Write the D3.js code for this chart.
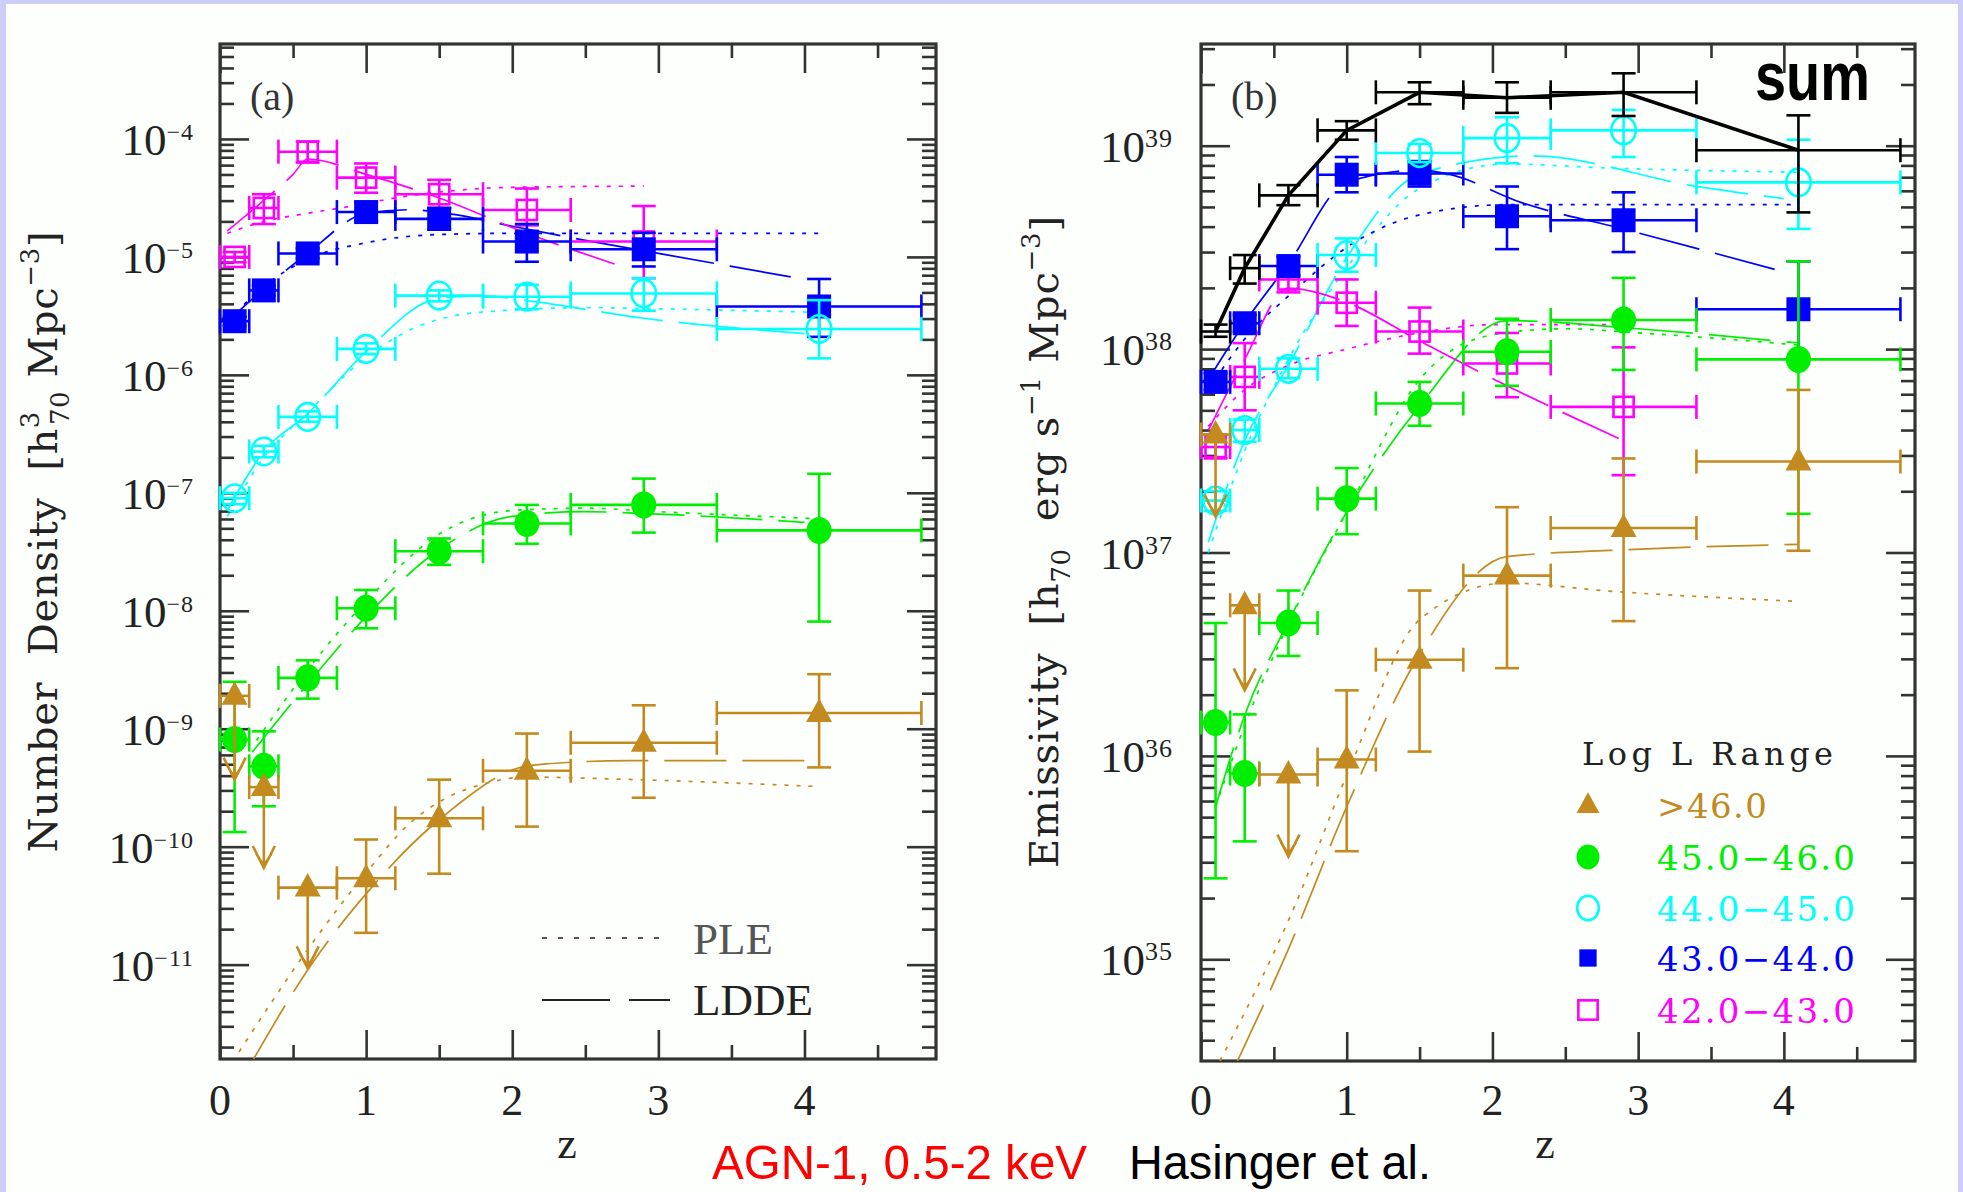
<!DOCTYPE html>
<html>
<head>
<meta charset="utf-8">
<script src="https://cdn.jsdelivr.net/npm/d3@7"></script>
<style>
  body { margin: 0; background: #fff; }
  svg { display: block; }
  text { white-space: pre; }
</style>
</head>
<body>
<div id="chart"></div>
<script>
// ---------- data ----------
// redshift bins (centre, low edge, high edge)
const zMid = [0.1, 0.3, 0.6, 1.0, 1.5, 2.1, 2.9, 4.1];
const zLo  = [0.0, 0.2, 0.4, 0.8, 1.2, 1.8, 2.4, 3.4];
const zHi  = [0.2, 0.4, 0.8, 1.2, 1.8, 2.4, 3.4, 4.8];

// luminosity classes
const classNames   = [">46.0", "45.0\u221246.0", "44.0\u221245.0", "43.0\u221244.0", "42.0\u221243.0"];
const classColors  = ["#c28a1f", "#00ee00", "#00ffff", "#0000ff", "#ff00ff"];
const classSymbols = ["triangle", "disc", "circle", "block", "square"];

// (a) number density; for the gold class the first three are upper limits (lo = arrow tip)
const goldLimit = [true, true, true, false, false, false, false, false];
const ndGold      = [1.9e-9, 3.2e-10, 4.5e-11, 5.4e-11, 1.74e-10, 4.4e-10, 7.6e-10, 1.36e-9];
const ndGoldLo    = [3.7e-10, 6.6e-11, 9.3e-12, 1.86e-11, 5.9e-11, 1.48e-10, 2.6e-10, 4.7e-10];
const ndGoldHi    = [null, null, null, 1.15e-10, 3.7e-10, 9.1e-10, 1.58e-9, 2.9e-9];
const ndGreen     = [8.1e-10, 4.8e-10, 2.7e-9, 1.05e-8, 3.2e-8, 5.5e-8, 7.9e-8, 4.8e-8];
const ndGreenLo   = [1.33e-10, 2.2e-10, 1.8e-9, 7.1e-9, 2.45e-8, 3.7e-8, 4.6e-8, 8.1e-9];
const ndGreenHi   = [2.5e-9, 9.5e-10, 3.8e-9, 1.5e-8, 4.1e-8, 7.9e-8, 1.32e-7, 1.45e-7];
const ndCyan      = [9.0e-8, 2.24e-7, 4.4e-7, 1.66e-6, 4.7e-6, 4.6e-6, 4.9e-6, 2.45e-6];
const ndCyanLo    = [8.0e-8, 2.0e-7, 4.0e-7, 1.5e-6, 4.2e-6, 3.6e-6, 3.5e-6, 1.38e-6];
const ndCyanHi    = [1.0e-7, 2.5e-7, 4.9e-7, 1.85e-6, 5.2e-6, 5.8e-6, 6.6e-6, 4.3e-6];
const ndBlue      = [2.85e-6, 5.2e-6, 1.07e-5, 2.4e-5, 2.1e-5, 1.35e-5, 1.16e-5, 3.8e-6];
const ndBlueLo    = [2.6e-6, 4.7e-6, 9.7e-6, 2.0e-5, 1.7e-5, 9.1e-6, 8.3e-6, 2.1e-6];
const ndBlueHi    = [3.1e-6, 5.7e-6, 1.18e-5, 2.9e-5, 2.6e-5, 1.9e-5, 1.6e-5, 6.5e-6];
const ndMagenta   = [1.0e-5, 2.6e-5, 7.8e-5, 4.7e-5, 3.4e-5, 2.5e-5, 1.35e-5];
const ndMagentaLo = [9.0e-6, 1.9e-5, 6.3e-5, 3.5e-5, 2.6e-5, 1.85e-5, 6.6e-6];
const ndMagentaHi = [1.1e-5, 3.4e-5, 9.5e-5, 6.2e-5, 4.5e-5, 3.8e-5, 2.7e-5];

// (b) emissivity
const emGold      = [3.8e37, 5.5e36, 8.1e35, 9.6e35, 2.97e36, 7.7e36, 1.32e37, 2.8e37];
const emGoldLo    = [1.5e37, 2.1e36, 3.2e35, 3.4e35, 1.05e36, 2.7e36, 4.6e36, 1.02e37];
const emGoldHi    = [null, null, null, 2.1e36, 6.5e36, 1.67e37, 2.9e37, 6.3e37];
const emGreen     = [1.46e36, 8.2e35, 4.5e36, 1.84e37, 5.4e37, 9.7e37, 1.39e38, 8.9e37];
const emGreenLo   = [2.5e35, 3.8e35, 3.1e36, 1.23e37, 4.2e37, 6.6e37, 7.9e37, 1.55e37];
const emGreenHi   = [4.5e36, 1.6e36, 6.5e36, 2.6e37, 6.9e37, 1.41e38, 2.24e38, 2.7e38];
const emCyan      = [1.8e37, 4.0e37, 8.0e37, 2.9e38, 9.2e38, 1.09e39, 1.19e39, 6.6e38];
const emCyanLo    = [1.6e37, 3.5e37, 7.2e37, 2.4e38, 8.3e38, 8.2e38, 8.8e38, 3.9e38];
const emCyanHi    = [2.0e37, 4.5e37, 9.0e37, 3.5e38, 1.02e39, 1.38e39, 1.5e39, 1.07e39];
const emBlue      = [6.9e37, 1.34e38, 2.56e38, 7.2e38, 7.3e38, 4.5e38, 4.3e38, 1.57e38];
const emBlueLo    = [6.3e37, 1.22e38, 2.3e38, 5.9e38, 6.3e38, 3.1e38, 3.0e38, 9.0e37];
const emBlueHi    = [7.6e37, 1.47e38, 2.85e38, 8.8e38, 8.4e38, 6.3e38, 5.9e38, 2.7e38];
const emMagenta   = [3.3e37, 7.3e37, 2.2e38, 1.69e38, 1.22e38, 8.5e37, 5.2e37];
const emMagentaLo = [2.9e37, 5.0e37, 1.9e38, 1.3e38, 9.5e37, 5.8e37, 2.4e37];
const emMagentaHi = [3.8e37, 1.07e38, 2.5e38, 2.2e38, 1.6e38, 1.2e38, 1.02e38];
const emSum       = [1.22e38, 2.5e38, 5.7e38, 1.19e39, 1.83e39, 1.72e39, 1.83e39, 9.5e38];
const emSumLo     = [1.15e38, 2.1e38, 5.1e38, 1.07e39, 1.6e39, 1.45e39, 1.4e39, 4.7e38];
const emSumHi     = [1.32e38, 2.9e38, 6.4e38, 1.32e39, 2.05e39, 2.05e39, 2.27e39, 1.41e39];

// model curves: [z, log10 value]
const pleA = [
  [[0.13,-11.74],[0.63,-10.82],[1.02,-10.19],[1.3,-9.8],[1.53,-9.6],[1.8,-9.47],[2.09,-9.41],[2.8,-9.43],[4.1,-9.49]],
  [[0.25,-9.1],[0.6,-8.5],[1.0,-7.92],[1.5,-7.35],[2.0,-7.15],[2.5,-7.13],[3.0,-7.16],[4.1,-7.22]],
  [[0.05,-7.2],[0.3,-6.7],[0.6,-6.32],[1.0,-5.85],[1.3,-5.62],[1.6,-5.5],[2.0,-5.45],[2.5,-5.43],[3.0,-5.44],[4.1,-5.47]],
  [[0.05,-5.55],[0.3,-5.25],[0.6,-5.02],[1.0,-4.88],[1.5,-4.81],[2.0,-4.80],[4.1,-4.80]],
  [[0.05,-4.8],[0.3,-4.7],[0.6,-4.63],[0.9,-4.57],[1.2,-4.5],[1.5,-4.45],[2.0,-4.41],[2.9,-4.40]]
];
const lddeA = [
  [[0.23,-11.8],[0.63,-10.99],[1.02,-10.37],[1.53,-9.74],[2.13,-9.31],[2.8,-9.27],[4.0,-9.27]],
  [[0.22,-9.2],[0.6,-8.62],[1.0,-8.05],[1.5,-7.48],[2.0,-7.2],[2.5,-7.16],[3.0,-7.18],[4.0,-7.25]],
  [[0.05,-7.15],[0.3,-6.65],[0.6,-6.33],[1.0,-5.8],[1.5,-5.35],[1.8,-5.33],[2.1,-5.37],[2.9,-5.52],[4.0,-5.65]],
  [[0.05,-5.55],[0.3,-5.27],[0.6,-4.97],[1.0,-4.63],[1.3,-4.6],[1.6,-4.64],[2.0,-4.74],[2.5,-4.86],[3.0,-4.97],[3.5,-5.08],[4.0,-5.19]],
  [[0.05,-4.78],[0.3,-4.52],[0.5,-4.3],[0.6,-4.17],[1.0,-4.3],[1.5,-4.5],[2.1,-4.8],[2.7,-5.06]]
];
const pleB = [
  [[0.13,34.5],[0.63,35.24],[1.02,35.94],[1.5,36.67],[2.1,36.85],[2.8,36.81],[4.1,36.76]],
  [[0.1,35.75],[0.3,36.15],[0.6,36.65],[1.0,37.2],[1.5,37.85],[2.0,38.07],[2.5,38.1],[3.0,38.08],[4.1,38.02]],
  [[0.05,37.0],[0.3,37.5],[0.6,37.95],[1.0,38.4],[1.5,38.79],[2.1,38.91],[2.8,38.89],[4.1,38.87]],
  [[0.05,37.8],[0.3,38.05],[0.63,38.28],[1.02,38.51],[1.5,38.66],[2.1,38.71],[4.1,38.71]],
  [[0.05,37.62],[0.3,37.8],[0.6,37.92],[1.0,38.0],[1.5,38.08],[2.0,38.12],[2.9,38.12]]
];
const lddeB = [
  [[0.25,34.5],[0.6,35.05],[1.0,35.75],[1.5,36.5],[2.1,36.98],[2.8,37.01],[4.1,37.04]],
  [[0.1,35.75],[0.3,36.2],[0.6,36.66],[1.0,37.2],[1.5,37.72],[2.1,38.14],[3.0,38.1],[4.1,38.03]],
  [[0.05,37.05],[0.3,37.55],[0.6,37.92],[1.0,38.45],[1.5,38.86],[2.27,38.95],[3.4,38.80],[4.0,38.74]],
  [[0.05,37.85],[0.3,38.13],[0.6,38.42],[1.0,38.82],[1.5,38.88],[1.7,38.86],[2.2,38.72],[2.9,38.59],[4.0,38.38]],
  [[0.05,37.6],[0.3,37.95],[0.6,38.3],[1.0,38.23],[1.5,38.04],[2.1,37.82],[2.9,37.55]]
];

// ---------- drawing ----------
const W = 1963, H = 1192;
const serif = "'Liberation Serif', 'DejaVu Serif', serif";
const slab = "'DejaVu Serif', 'Liberation Serif', serif";
const sans = "'Liberation Sans', Arial, sans-serif";
const ink = "#333";

const svg = d3.select("#chart").append("svg")
    .attr("width", W)
    .attr("height", H);

// lavender frame around the slide
svg.append("rect").attr("width", W).attr("height", H).attr("fill", "#cccdf8");
svg.append("rect").attr("x", 6).attr("y", 4).attr("width", W - 11).attr("height", H - 4).attr("fill", "#fdfffd");

function drawSymbol(g, type, cx, cy, color, s) {
  if (type === "triangle") {
    g.append("path")
      .attr("d", `M${cx},${cy - s * 0.58}L${cx + s * 0.52},${cy + s * 0.36}L${cx - s * 0.52},${cy + s * 0.36}Z`)
      .attr("fill", color);
  } else if (type === "disc") {
    g.append("ellipse").attr("cx", cx).attr("cy", cy).attr("rx", s * 0.5).attr("ry", s * 0.54).attr("fill", color);
  } else if (type === "circle") {
    g.append("ellipse").attr("cx", cx).attr("cy", cy).attr("rx", s * 0.47).attr("ry", s * 0.53)
      .attr("fill", "none").attr("stroke", color).attr("stroke-width", 2.6);
  } else if (type === "block") {
    g.append("rect").attr("x", cx - s * 0.48).attr("y", cy - s * 0.48).attr("width", s * 0.96).attr("height", s * 0.96).attr("fill", color);
  } else {
    g.append("rect").attr("x", cx - s * 0.42).attr("y", cy - s * 0.42).attr("width", s * 0.84).attr("height", s * 0.84)
      .attr("fill", "none").attr("stroke", color).attr("stroke-width", 2.6);
  }
}

function drawPoints(g, x, y, vals, lo, hi, color, symbol, limits) {
  const cap = 12;
  vals.forEach((v, i) => {
    const cx = x(zMid[i]), cy = y(v);
    const e = g.append("g").attr("stroke", color).attr("stroke-width", 2.6).attr("fill", "none");
    // horizontal bar with end caps
    e.append("line").attr("x1", x(zLo[i])).attr("x2", x(zHi[i])).attr("y1", cy).attr("y2", cy);
    e.append("line").attr("x1", x(zLo[i])).attr("x2", x(zLo[i])).attr("y1", cy - cap).attr("y2", cy + cap);
    e.append("line").attr("x1", x(zHi[i])).attr("x2", x(zHi[i])).attr("y1", cy - cap).attr("y2", cy + cap);
    if (limits && limits[i]) {
      const ty = y(lo[i]);
      e.append("line").attr("x1", cx).attr("x2", cx).attr("y1", cy).attr("y2", ty);
      e.append("path").attr("d", `M${cx - 11},${ty - 22}L${cx},${ty}L${cx + 11},${ty - 22}`);
      e.append("path").attr("d", `M${cx - 8},${ty - 14}L${cx},${ty - 4}L${cx + 8},${ty - 14}`).attr("stroke-width", 1.6);
    } else {
      const y1 = y(lo[i]), y2 = y(hi[i]);
      e.append("line").attr("x1", cx).attr("x2", cx).attr("y1", y1).attr("y2", y2);
      e.append("line").attr("x1", cx - cap).attr("x2", cx + cap).attr("y1", y1).attr("y2", y1);
      e.append("line").attr("x1", cx - cap).attr("x2", cx + cap).attr("y1", y2).attr("y2", y2);
    }
    drawSymbol(g, symbol, cx, cy, color, symbol === "circle" ? 26 : symbol === "square" ? 24 : 25);
  });
}

function drawPanel(p) {
  const x = d3.scaleLinear().domain([0, 4.9]).range([p.left, p.right]);
  const y = d3.scaleLog().domain(p.ydom).range([p.bottom, p.top]);
  const g = svg.append("g");

  const clipId = "clip-" + p.id;
  svg.append("clipPath").attr("id", clipId)
    .append("rect").attr("x", p.left).attr("y", p.top)
    .attr("width", p.right - p.left).attr("height", p.bottom - p.top);

  // ticks: majors at decades / integers, minors at 2..9 and half units
  const eLo = Math.floor(Math.log10(p.ydom[0])), eHi = Math.ceil(Math.log10(p.ydom[1]));
  const majY = d3.range(eLo, eHi + 1).map(e => Math.pow(10, e)).filter(v => v >= p.ydom[0] && v <= p.ydom[1]);
  const minY = [];
  d3.range(eLo, eHi + 1).forEach(e => d3.range(2, 10).forEach(m => {
    const v = m * Math.pow(10, e);
    if (v > p.ydom[0] && v < p.ydom[1]) minY.push(v);
  }));
  const majX = [0, 1, 2, 3, 4], minX = [0.5, 1.5, 2.5, 3.5, 4.5];

  const axes = g.append("g");
  axes.append("g").attr("transform", `translate(0,${p.bottom})`).call(d3.axisBottom(x).tickValues(majX).tickSize(-29).tickFormat(""));
  axes.append("g").attr("transform", `translate(0,${p.bottom})`).call(d3.axisBottom(x).tickValues(minX).tickSize(-14).tickFormat(""));
  axes.append("g").attr("transform", `translate(0,${p.top})`).call(d3.axisTop(x).tickValues(majX).tickSize(-29).tickFormat(""));
  axes.append("g").attr("transform", `translate(0,${p.top})`).call(d3.axisTop(x).tickValues(minX).tickSize(-14).tickFormat(""));
  axes.append("g").attr("transform", `translate(${p.left},0)`).call(d3.axisLeft(y).tickValues(majY).tickSize(-29).tickFormat(""));
  axes.append("g").attr("transform", `translate(${p.left},0)`).call(d3.axisLeft(y).tickValues(minY).tickSize(-14).tickFormat(""));
  axes.append("g").attr("transform", `translate(${p.right},0)`).call(d3.axisRight(y).tickValues(majY).tickSize(-29).tickFormat(""));
  axes.append("g").attr("transform", `translate(${p.right},0)`).call(d3.axisRight(y).tickValues(minY).tickSize(-14).tickFormat(""));
  axes.selectAll(".domain").remove();
  axes.selectAll(".tick line").attr("stroke", ink).attr("stroke-width", 2.6);

  g.append("rect").attr("x", p.left).attr("y", p.top)
    .attr("width", p.right - p.left).attr("height", p.bottom - p.top)
    .attr("fill", "none").attr("stroke", ink).attr("stroke-width", 3.2);

  // tick labels
  majX.forEach(v => {
    g.append("text").attr("x", x(v)).attr("y", 1115).attr("text-anchor", "middle")
      .attr("font-family", serif).attr("font-size", 44).attr("fill", "#222").text(v);
  });
  majY.forEach(v => {
    const e = Math.round(Math.log10(v));
    const t = g.append("text").attr("x", p.left - p.labelGap).attr("y", y(v) + 16).attr("text-anchor", "end")
      .attr("font-family", serif).attr("font-size", 45).attr("fill", "#222");
    t.append("tspan").text("10");
    t.append("tspan").attr("dy", -15).attr("font-size", p.expSize).attr("letter-spacing", 1)
      .text(String(e).replace("-", "\u2212"));
  });

  // x title
  g.append("text").attr("x", p.zx).attr("y", 1158).attr("text-anchor", "middle")
    .attr("font-family", serif).attr("font-size", 44).attr("fill", "#222").text("z");

  // panel tag
  g.append("text").attr("x", p.left + 30).attr("y", 110)
    .attr("font-family", serif).attr("font-size", 40).attr("fill", "#333").text(p.tag);

  // model curves
  const line = d3.line().x(d => x(d[0])).y(d => y(Math.pow(10, d[1]))).curve(d3.curveMonotoneX);
  const models = g.append("g").attr("clip-path", `url(#${clipId})`).attr("fill", "none").attr("stroke-width", 1.7);
  p.ple.forEach((c, k) => models.append("path").attr("d", line(c)).attr("stroke", classColors[k]).attr("stroke-dasharray", "4,8"));
  p.ldde.forEach((c, k) => models.append("path").attr("d", line(c)).attr("stroke", classColors[k]).attr("stroke-dasharray", "62,16"));

  // data points, faint classes first
  const pts = g.append("g");
  for (let k = 4; k >= 0; k--) {
    const s = p.series[k];
    drawPoints(pts, x, y, s[0], s[1], s[2], classColors[k], classSymbols[k], k === 0 ? goldLimit : null);
  }
  return {x, y, g};
}

// panel (a)
drawPanel({
  id: "a", tag: "(a)", left: 220, right: 936, top: 44, bottom: 1059, zx: 567, labelGap: 26, expSize: 24,
  ydom: [Math.pow(10, -11.8), Math.pow(10, -3.195)],
  ple: pleA, ldde: lddeA,
  series: [
    [ndGold, ndGoldLo, ndGoldHi],
    [ndGreen, ndGreenLo, ndGreenHi],
    [ndCyan, ndCyanLo, ndCyanHi],
    [ndBlue, ndBlueLo, ndBlueHi],
    [ndMagenta, ndMagentaLo, ndMagentaHi]
  ]
});

// panel (b)
const pb = drawPanel({
  id: "b", tag: "(b)", left: 1201, right: 1915, top: 44, bottom: 1061, zx: 1545, labelGap: 28, expSize: 26,
  ydom: [Math.pow(10, 34.5), Math.pow(10, 39.5)],
  ple: pleB, ldde: lddeB,
  series: [
    [emGold, emGoldLo, emGoldHi],
    [emGreen, emGreenLo, emGreenHi],
    [emCyan, emCyanLo, emCyanHi],
    [emBlue, emBlueLo, emBlueHi],
    [emMagenta, emMagentaLo, emMagentaHi]
  ]
});

// the summed emissivity, black
const sumLine = d3.line().x((d, i) => pb.x(zMid[i])).y(d => pb.y(d));
pb.g.append("path").attr("d", sumLine(emSum)).attr("fill", "none").attr("stroke", "#000").attr("stroke-width", 3.6);
emSum.forEach((v, i) => {
  const cx = pb.x(zMid[i]), cy = pb.y(v);
  const e = pb.g.append("g").attr("stroke", "#000").attr("stroke-width", 2.6);
  e.append("line").attr("x1", pb.x(zLo[i])).attr("x2", pb.x(zHi[i])).attr("y1", cy).attr("y2", cy);
  e.append("line").attr("x1", pb.x(zLo[i])).attr("x2", pb.x(zLo[i])).attr("y1", cy - 12).attr("y2", cy + 12);
  e.append("line").attr("x1", pb.x(zHi[i])).attr("x2", pb.x(zHi[i])).attr("y1", cy - 12).attr("y2", cy + 12);
  e.append("line").attr("x1", cx).attr("x2", cx).attr("y1", pb.y(emSumLo[i])).attr("y2", pb.y(emSumHi[i]));
  e.append("line").attr("x1", cx - 12).attr("x2", cx + 12).attr("y1", pb.y(emSumLo[i])).attr("y2", pb.y(emSumLo[i]));
  e.append("line").attr("x1", cx - 12).attr("x2", cx + 12).attr("y1", pb.y(emSumHi[i])).attr("y2", pb.y(emSumHi[i]));
});

svg.append("text").attr("x", 1755).attr("y", 100)
  .attr("font-family", sans).attr("font-size", 68).attr("font-weight", "bold")
  .attr("textLength", 115).attr("lengthAdjust", "spacingAndGlyphs")
  .attr("fill", "#000").text("sum");

// y titles
const ta = svg.append("text").attr("transform", "translate(57,542) rotate(-90)").attr("text-anchor", "middle")
  .attr("font-family", slab).attr("font-size", 40).attr("fill", "#222")
  .attr("textLength", 621).attr("lengthAdjust", "spacing");
ta.append("tspan").text("Number  Density  [h");
ta.append("tspan").attr("font-size", 26).attr("dy", -18).text("3");
ta.append("tspan").attr("font-size", 26).attr("dx", -14).attr("dy", 30).text("70");
ta.append("tspan").attr("dy", -12).text(" Mpc");
ta.append("tspan").attr("font-size", 26).attr("dy", -18).text("\u22123");
ta.append("tspan").attr("dy", 18).text("]");

const tb = svg.append("text").attr("transform", "translate(1058,542) rotate(-90)").attr("text-anchor", "middle")
  .attr("font-family", slab).attr("font-size", 40).attr("fill", "#222")
  .attr("textLength", 652).attr("lengthAdjust", "spacing");
tb.append("tspan").text("Emissivity  [h");
tb.append("tspan").attr("font-size", 26).attr("dy", 12).text("70");
tb.append("tspan").attr("dy", -12).text("  erg s");
tb.append("tspan").attr("font-size", 26).attr("dy", -18).text("\u22121");
tb.append("tspan").attr("dy", 18).text(" Mpc");
tb.append("tspan").attr("font-size", 26).attr("dy", -18).text("\u22123");
tb.append("tspan").attr("dy", 18).text("]");

// panel (a) model legend
const lg = svg.append("g");
lg.append("line").attr("x1", 542).attr("x2", 670).attr("y1", 938).attr("y2", 938)
  .attr("stroke", "#555").attr("stroke-width", 1.8).attr("stroke-dasharray", "5,11");
lg.append("line").attr("x1", 542).attr("x2", 670).attr("y1", 1000).attr("y2", 1000)
  .attr("stroke", "#222").attr("stroke-width", 2.2).attr("stroke-dasharray", "68,19");
lg.append("text").attr("x", 693).attr("y", 954).attr("font-family", serif).attr("font-size", 45).attr("fill", "#555").text("PLE");
lg.append("text").attr("x", 693).attr("y", 1015).attr("font-family", serif).attr("font-size", 45).attr("fill", "#222").text("LDDE");

// panel (b) class legend
const cl = svg.append("g");
cl.append("text").attr("x", 1582).attr("y", 765).attr("font-family", slab).attr("font-size", 32)
  .attr("textLength", 251).attr("lengthAdjust", "spacing").attr("fill", "#222").text("Log L Range");
const rowSym = [805, 857, 908, 958, 1010];
classNames.forEach((name, k) => {
  drawSymbol(cl, classSymbols[k], 1588, rowSym[k], classColors[k], k === 0 ? 22 : k === 3 ? 18 : 23);
  cl.append("text").attr("x", 1657).attr("y", rowSym[k] + 13).attr("font-family", slab).attr("font-size", 34)
    .attr("textLength", k === 0 ? 110 : 198).attr("lengthAdjust", "spacing")
    .attr("fill", classColors[k]).text(name);
});

// caption
svg.append("text").attr("x", 712).attr("y", 1179).attr("font-family", sans).attr("font-size", 49)
  .attr("textLength", 375).attr("lengthAdjust", "spacingAndGlyphs").attr("fill", "#ff0000").text("AGN-1, 0.5-2 keV");
svg.append("text").attr("x", 1129).attr("y", 1179).attr("font-family", sans).attr("font-size", 49)
  .attr("textLength", 302).attr("lengthAdjust", "spacingAndGlyphs").attr("fill", "#000").text("Hasinger et al.");
</script>
</body>
</html>
